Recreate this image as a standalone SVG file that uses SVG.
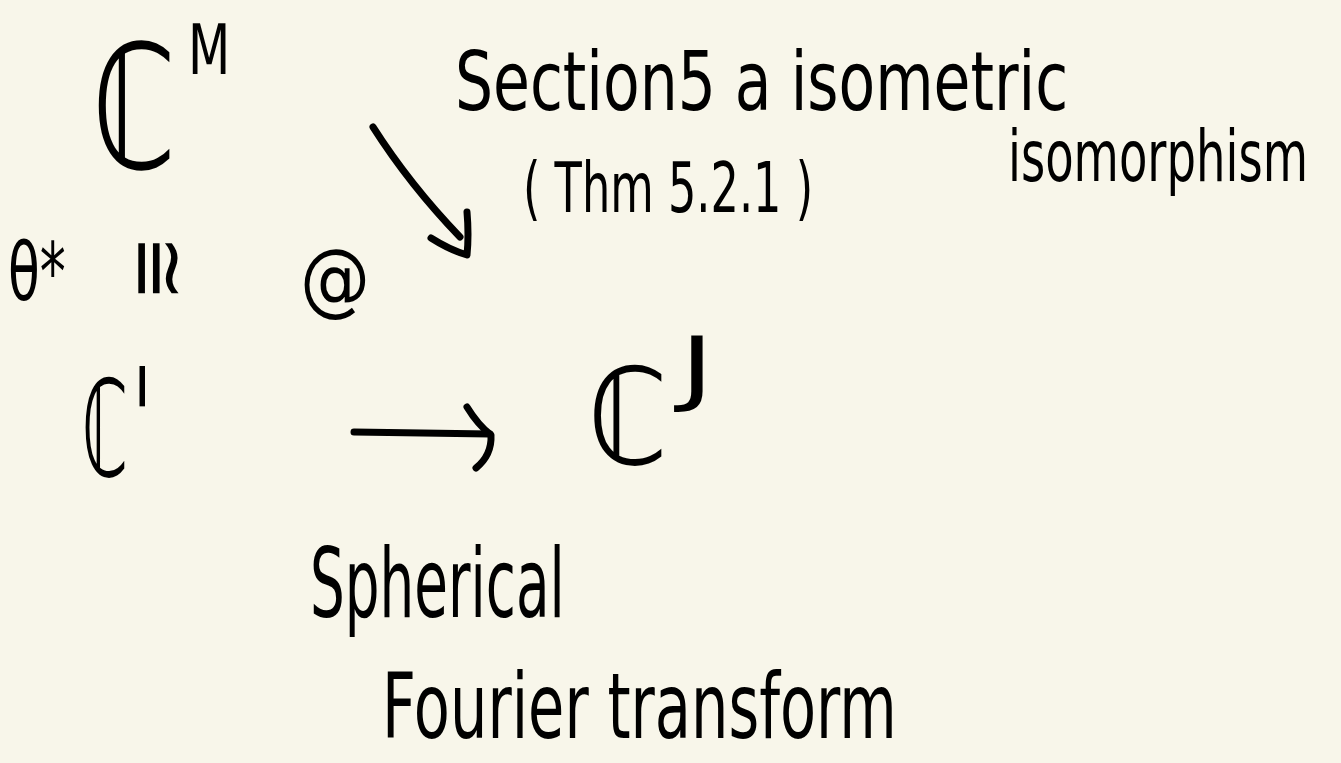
<svg xmlns="http://www.w3.org/2000/svg" width="1341" height="763" viewBox="0 0 1341 763">
<style>
.t{font-family:"DejaVu Sans","Liberation Sans",sans-serif;fill:#000;}
.ln{fill:none;stroke:#000;stroke-width:7;stroke-linecap:round;stroke-linejoin:round;}
</style>
<rect x="0" y="0" width="1341" height="763" fill="#F8F6EA"/>
<g id="node-CM">
<text class="t" font-size="172" transform="translate(92,168) scale(0.7,1)">ℂ</text>
<text class="t" font-size="70" transform="translate(188,74) scale(0.7,1)">M</text>
</g>
<g id="node-CI">
<text class="t" font-size="134" transform="translate(82,476) scale(0.49,1)">ℂ</text>
<text class="t" font-size="56" transform="translate(134,406)">I</text>
</g>
<g id="node-CJ">
<text class="t" font-size="134" transform="translate(588,464) scale(0.85,1)">ℂ</text>
<text class="t" font-size="82" transform="translate(680,396) scale(1.4,1)">J</text>
</g>
<g id="label-theta">
<text class="t" font-size="80" transform="translate(8,300) scale(0.65,1)">θ*</text>
<text class="t" font-size="80" text-anchor="middle" transform="translate(153,268) rotate(90)" dy="22">≅</text>
</g>
<g id="label-commute">
<text class="t" font-size="80" transform="translate(300,306) scale(0.875,1)">@</text>
</g>
<g id="label-diagonal">
<text class="t" font-size="82" transform="translate(455,110) scale(0.731,1)">Section5 a isometric</text>
<text class="t" font-size="72" transform="translate(1008,181) scale(0.646,1)">isomorphism</text>
<text class="t" font-size="70" transform="translate(523,212) scale(0.638,1)">( Thm 5.2.1 )</text>
</g>
<g id="label-horizontal">
<text class="t" font-size="96" transform="translate(310,617) scale(0.571,1)">Spherical</text>
<text class="t" font-size="90" transform="translate(382,738) scale(0.656,1)">Fourier transform</text>
</g>
<g id="connectors">
<path class="ln" d="M373,127 Q410,185 460,237"/>
<path class="ln" d="M431,238 Q450,250 467,255 Q469,235 467,212"/>
<path class="ln" d="M354,432 L490,434"/>
<path class="ln" d="M467,407 Q478,425 491,435 Q492,455 476,468"/>
</g>
</svg>
